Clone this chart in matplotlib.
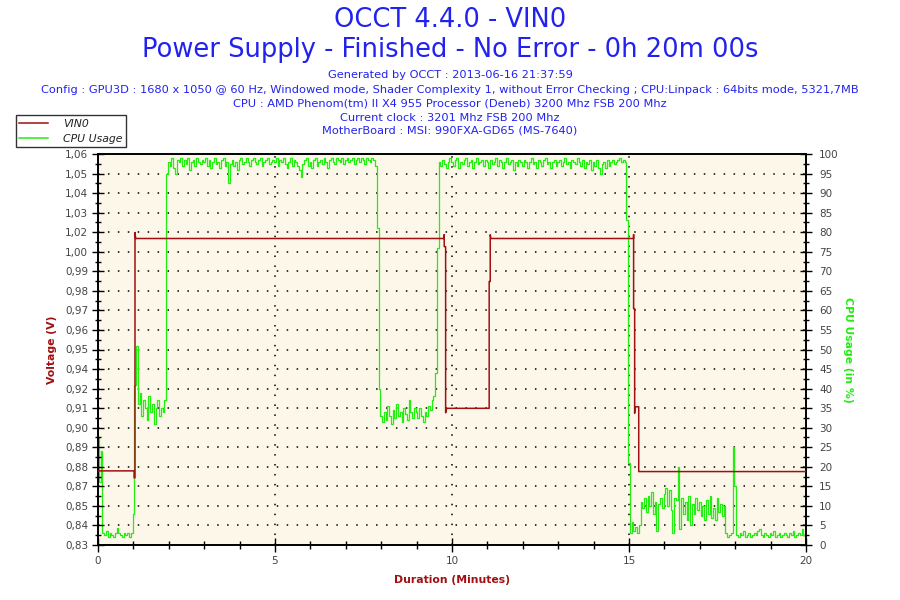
import numpy as np
import matplotlib
matplotlib.use("Agg")
import matplotlib.pyplot as plt
from matplotlib.lines import Line2D

plt.rcParams['font.family'] = ['DejaVu Sans']

# ---------------- data ----------------
title_line1 = "OCCT 4.4.0 - VIN0"
title_line2 = "Power Supply - Finished - No Error - 0h 20m 00s"
info_lines = [
    "Generated by OCCT : 2013-06-16 21:37:59",
    "Config : GPU3D : 1680 x 1050 @ 60 Hz, Windowed mode, Shader Complexity 1, without Error Checking ; CPU:Linpack : 64bits mode, 5321,7MB",
    "CPU : AMD Phenom(tm) II X4 955 Processor (Deneb) 3200 Mhz FSB 200 Mhz",
    "Current clock : 3201 Mhz FSB 200 Mhz",
    "MotherBoard : MSI: 990FXA-GD65 (MS-7640)",
]

# Voltage (VIN0) step trace
volt_minutes = [0.0, 1.02, 1.02, 1.045, 1.045, 1.065, 9.78, 9.78, 9.78, 9.82, 9.82, 9.85,
                11.05, 11.05, 11.08, 11.08, 11.10, 15.13, 15.13, 15.13, 15.16, 15.16,
                15.165, 15.275, 15.275, 20.0]
volt_values = [0.8736, 0.8736, 0.8695, 0.8695, 1.0138, 1.0103, 1.0103, 1.0125, 1.0055, 1.0055,
               0.9078, 0.9104, 0.9104, 0.9850, 0.9850, 1.0125, 1.0103, 1.0103, 1.0126, 0.9690,
               0.9690, 0.9075, 0.9113, 0.9113, 0.8732, 0.8732]

# CPU usage (%) sampled every 3 s (0.05 min), 0 .. 20 min
cpu_percent = [
    # 0 min
    27.7, 16, 24, 3, 2.5, 3.5, 2, 3, 2.5, 2, 3, 4.3, 3, 2.5, 2, 3, 2.5, 3, 2, 3,
    # 1 min
    8, 41, 51, 36, 39, 33, 37, 35, 32, 38, 34, 36, 31, 35, 37, 33, 35, 34, 37, 95,
    # 2 min
    98, 97, 99, 96.5, 95, 98.5, 98, 99, 97, 98.5, 97.5, 99, 96, 98, 98.5, 97, 99, 98, 97.5, 98.5,
    # 3 min
    98, 99, 97, 98.5, 96.5, 98, 99, 97.5, 98, 96.5, 98.5, 99, 97, 98, 92.5, 97.5, 98.5, 97, 98, 96,
    # 4 min
    98.5, 99, 97.5, 98, 99, 98, 97, 98.5, 99, 98, 97.5, 98.5, 99, 97, 98, 98.5, 99, 97.5, 98, 98.5,
    # 5 min
    98, 99, 97, 98.5, 98, 99, 97.5, 96.5, 98, 99, 97, 98.5, 98, 97, 96, 94, 97.5, 98.5, 99, 97,
    # 6 min
    98, 96.5, 98.5, 99, 97, 98, 98.5, 97.5, 99, 98, 96.5, 98.5, 99, 98, 97.5, 99, 98.5, 98, 99, 97.5,
    # 7 min
    98.5, 99, 98, 98.5, 99, 97.5, 98.5, 99, 98, 99, 98.5, 97.5, 99, 98.5, 98, 99, 98.5, 97, 81, 40,
    # 8 min
    33, 31.5, 34, 32, 35.5, 33, 31, 34.5, 32.5, 36, 33, 34, 31.5, 35, 33.5, 32, 37, 34, 32.5, 35,
    # 9 min
    34, 32.5, 35, 33, 31.5, 34, 33, 35.5, 34.5, 37, 38, 44, 76, 98, 97, 98.5, 97.5, 96.5, 98, 99,
    # 10 min
    98, 97, 98.5, 99, 96.5, 98, 97.5, 98.5, 99, 97, 98, 98.5, 96.5, 98, 99, 97.5, 98, 98.5, 97, 98.5,
    # 11 min
    98, 96.5, 98.5, 97.5, 98, 99, 97, 98.5, 98, 96.5, 98, 99, 97.5, 98, 98.5, 96, 98, 97, 98.5, 98,
    # 12 min
    97, 98.5, 98, 96.5, 98, 99, 97.5, 98, 96.5, 98.5, 98, 97, 98.5, 99, 97.5, 98, 96.5, 98, 98.5, 97,
    # 13 min
    98, 98.5, 97, 98, 99, 97.5, 98, 96.5, 98.5, 98, 97.5, 99, 98, 97, 98.5, 96.5, 98, 97.5, 98.5, 96,
    # 14 min
    98, 97, 98.5, 96.5, 95, 97.5, 98, 96.5, 98.5, 97, 98, 98.5, 97.5, 98, 98.5, 99, 98, 98.5, 98, 83,
    # 15 min
    21, 3, 6, 3.5, 4.5, 3, 5, 11, 9.5, 12, 8.5, 12.5, 10, 13.5, 8, 11, 3.5, 10.5, 12, 9.5,
    # 16 min
    13, 14.5, 10, 14, 9, 3, 12, 11.5, 20, 4, 12, 8, 11, 6.5, 12.5, 5, 10.5, 8, 12, 9,
    # 17 min
    11, 7.5, 10, 6.5, 11.5, 8, 12.5, 7, 9.5, 6.5, 12, 8.5, 10.5, 7.5, 10, 3, 2, 2.5, 3, 25,
    # 18 .. 20 min
    15, 2.5, 2, 3, 2.5, 3.5, 2, 2.5, 3, 2, 2.5, 3, 2.5, 3.5, 4, 2.5, 2, 3, 2.5, 2, 3,
    2.5, 3.5, 2, 2.5, 3, 2, 2.5, 3, 2.5, 2, 3, 2.5, 3.5, 2, 2.5, 3, 2.5, 4, 2.5, 2,
]
cpu_minutes = np.linspace(0, 20, len(cpu_percent))

volt_tick_labels = ["0,83", "0,84", "0,85", "0,87", "0,88", "0,89", "0,90", "0,91", "0,92",
                    "0,94", "0,95", "0,96", "0,97", "0,98", "0,99", "1,00", "1,02", "1,03",
                    "1,04", "1,05", "1,06"]
cpu_ticks = list(range(0, 101, 5))
x_ticks = [0, 5, 10, 15, 20]

# ---------------- style ----------------
RED = '#A01010'
GREEN = '#22EE11'
BLUE = '#2222EE'
CREAM = '#FDF7E9'
TICKLBL = '#444444'

fig = plt.figure(figsize=(9, 6), dpi=100)
L, R, B, T = 98 / 900, 806 / 900, 1 - 545 / 600, 1 - 154 / 600
ax_cpu = fig.add_axes([L, B, R - L, T - B])
ax_v = ax_cpu.twinx()

# CPU axis (right)
ax_cpu.set_facecolor(CREAM)
ax_cpu.plot(cpu_minutes, cpu_percent, color=GREEN, lw=0.9, zorder=2, drawstyle='steps-mid')
ax_cpu.set_xlim(0, 20)
ax_cpu.set_ylim(0, 100)
ax_cpu.yaxis.tick_right()
ax_cpu.set_yticks(cpu_ticks)
ax_cpu.set_yticks(np.arange(2.5, 100, 5), minor=True)
ax_cpu.set_xticks(x_ticks)
ax_cpu.set_xticks(np.arange(0, 21, 1), minor=True)
ax_cpu.set_axisbelow(True)
ax_cpu.grid(True, which='major', color='black', linestyle=(0, (1, 5.5)), linewidth=1.1)
ax_cpu.tick_params(axis='y', which='major', direction='inout', length=9, width=1,
                   labelcolor=TICKLBL, labelsize=7.5, pad=5, right=True, left=False,
                   labelright=True, labelleft=False)
ax_cpu.tick_params(axis='y', which='minor', direction='inout', length=5, width=1,
                   right=True, left=False)
ax_cpu.tick_params(axis='x', which='major', direction='inout', length=10, width=1,
                   labelcolor=TICKLBL, labelsize=7.5, pad=3)
ax_cpu.tick_params(axis='x', which='minor', direction='inout', length=6, width=1)

# Voltage axis (left)
ax_v.plot(volt_minutes, volt_values, color=RED, lw=1.1, zorder=3)
ax_v.set_ylim(0.83, 1.06)
ax_v.yaxis.tick_left()
vt = np.linspace(0.83, 1.06, len(volt_tick_labels))
ax_v.set_yticks(vt)
ax_v.set_yticklabels(volt_tick_labels)
ax_v.set_yticks((vt[:-1] + vt[1:]) / 2, minor=True)
ax_v.tick_params(axis='y', which='major', direction='inout', length=9, width=1,
                 labelcolor=TICKLBL, labelsize=7.5, pad=2.5, left=True, right=False,
                 labelleft=True, labelright=False)
ax_v.tick_params(axis='y', which='minor', direction='inout', length=5, width=1,
                 left=True, right=False)

for a in (ax_cpu, ax_v):
    for s in a.spines.values():
        s.set_color('black')
        s.set_linewidth(1.2)

# Axis labels
fig.text(52 / 900, 1 - 350 / 600, "Voltage (V)", rotation=90, color=RED,
         fontsize=7.8, fontweight='bold', ha='center', va='center')
fig.text(848 / 900, 1 - 350 / 600, "CPU Usage (in %)", rotation=270, color=GREEN,
         fontsize=7.8, fontweight='bold', ha='center', va='center')
fig.text(452 / 900, 1 - 580 / 600, "Duration (Minutes)", color=RED,
         fontsize=7.8, fontweight='bold', ha='center', va='center')

# Titles
fig.text(0.5, 1 - 20 / 600, title_line1, color=BLUE, fontsize=18.5, ha='center', va='center')
fig.text(0.5, 1 - 50 / 600, title_line2, color=BLUE, fontsize=18.5, ha='center', va='center')
info_y = [75, 90, 104, 118, 131]
for yy, txt in zip(info_y, info_lines):
    fig.text(0.5, 1 - yy / 600, txt, color=BLUE, fontsize=8.2, ha='center', va='center')

# Legend
handles = [Line2D([], [], color=RED, lw=1.1), Line2D([], [], color=GREEN, lw=1.1)]
leg = fig.legend(handles, ["VIN0", "CPU Usage"], loc='upper left',
                 bbox_to_anchor=(15.7 / 900, 1 - 115 / 600), borderaxespad=0,
                 fancybox=False, frameon=True, handlelength=2.6, handletextpad=1.4,
                 labelspacing=0.45, borderpad=0.35, prop={'size': 7.8, 'style': 'italic'})
leg.get_frame().set_edgecolor('black')
leg.get_frame().set_linewidth(1.0)
for t in leg.get_texts():
    t.set_color('#222222')

fig.savefig("out.png", dpi=100, facecolor='white')
